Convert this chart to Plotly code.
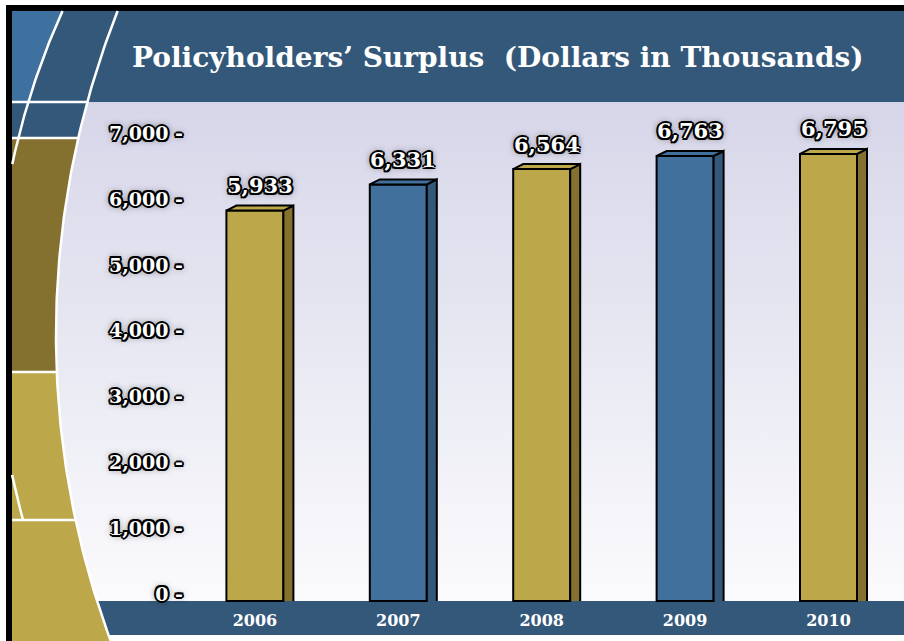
import numpy as np
import plotly.graph_objects as go

# ---------------- data ----------------
years = ["2006", "2007", "2008", "2009", "2010"]
surplus = [5933, 6331, 6564, 6763, 6795]
bar_colors = ["#BCA84A", "#41709C", "#BCA84A", "#41709C", "#BCA84A"]
side_colors = ["#85712F", "#34587A", "#85712F", "#34587A", "#85712F"]
y_ticks = [0, 1000, 2000, 3000, 4000, 5000, 6000, 7000]
y_tick_labels = [f"{v:,} -" for v in y_ticks]
title_text = "Policyholders’ Surplus  (Dollars in Thousands)"

# ---------------- layout geometry (pixels) ----------------
W, H = 904, 641
BASE_PX = 601          # front baseline of bars
TICK_BASE_PX = 594     # baseline of back wall (tick labels)
PX_PER_UNIT = 0.0658
CAT0_PX = 254.9
PX_PER_CAT = 143.4
BAR_W_PX = 57
DEPTH_X, DEPTH_Y = 10, 5

x2_range = [-CAT0_PX / PX_PER_CAT, (W - CAT0_PX) / PX_PER_CAT]
y2_range = [-(H - BASE_PX) / PX_PER_UNIT, BASE_PX / PX_PER_UNIT]
y3_range = [-(H - TICK_BASE_PX) / PX_PER_UNIT, TICK_BASE_PX / PX_PER_UNIT]
bw = BAR_W_PX / PX_PER_CAT
ddx = DEPTH_X / PX_PER_CAT
ddy = DEPTH_Y / PX_PER_UNIT

DARK_BLUE = "#34587A"
LIGHT_BLUE = "#3F71A0"
DARK_GOLD = "#85712F"
GOLD = "#BCA84A"


def curve_b(y):
    cx, cy, r = 938.8, 335.0, 882.8
    return cx - np.sqrt(r ** 2 - (y - cy) ** 2)


def curve_a(y):
    cx, cy, r = 745.9, 320.0, 750.0
    return cx - np.sqrt(r ** 2 - (y - cy) ** 2)


def path_left_region(y0, y1, curve, n=40):
    ys = np.linspace(y0, y1, n)
    xs = curve(ys)
    d = f"M 12,{y0} " + " ".join(f"L {x:.2f},{y:.2f}" for x, y in zip(xs, ys))
    d += f" L 12,{y1} Z"
    return d


shapes = []
# title band
shapes.append(dict(type="rect", xref="x", yref="y", x0=12, x1=W, y0=11, y1=102,
                   fillcolor=DARK_BLUE, line_width=0, layer="below"))
# light blue corner
shapes.append(dict(type="path", xref="x", yref="y", path=path_left_region(11, 102, curve_a),
                   fillcolor=LIGHT_BLUE, line_width=0, layer="below"))
# left segments
for (a, b, col) in [(102, 138, DARK_BLUE), (138, 372, DARK_GOLD), (372, 641, GOLD)]:
    shapes.append(dict(type="path", xref="x", yref="y", path=path_left_region(a, b, curve_b),
                       fillcolor=col, line_width=0, layer="below"))
# bottom band
ys = np.linspace(601, 635, 10)
d = " ".join(("M" if i == 0 else "L") + f" {x:.2f},{y:.2f}" for i, (x, y) in enumerate(zip(curve_b(ys), ys)))
d += f" L {W},635 L {W},601 Z"
shapes.append(dict(type="path", xref="x", yref="y", path=d, fillcolor=DARK_BLUE,
                   line_width=0, layer="below"))
# black frame
shapes.append(dict(type="rect", xref="x", yref="y", x0=6, x1=12, y0=5, y1=H,
                   fillcolor="#000", line_width=0, layer="below"))
shapes.append(dict(type="rect", xref="x", yref="y", x0=6, x1=W, y0=5, y1=11,
                   fillcolor="#000", line_width=0, layer="below"))

fig = go.Figure()

# gradient plot background bounded by the arc
gy = np.linspace(102, 601, 60)
gx = list(curve_b(gy)) + [W, W]
gyl = list(gy) + [601, 102]
fig.add_trace(go.Scatter(
    x=gx, y=gyl, xaxis="x", yaxis="y", mode="none", fill="toself",
    fillgradient=dict(type="vertical", start=102, stop=601,
                      colorscale=[[0, "#D6D6E9"], [1, "#FBFBFD"]]),
    hoverinfo="skip", showlegend=False))

# white decorative lines
lines = []
yb = np.linspace(11, H, 120)
lines.append((curve_b(yb), yb))
ya = np.linspace(11, 200, 80)
xa = curve_a(ya)
m = xa >= 12
lines.append((xa[m], ya[m]))
ya2 = np.linspace(440, 520, 40)
xa2 = curve_a(ya2)
m2 = xa2 >= 12
lines.append((xa2[m2], ya2[m2]))
for yy in [102, 138, 372, 520]:
    lines.append((np.array([12, curve_b(yy)]), np.array([yy, yy])))
for lx, ly in lines:
    fig.add_trace(go.Scatter(x=lx, y=ly, xaxis="x", yaxis="y", mode="lines",
                             line=dict(color="white", width=2.5),
                             hoverinfo="skip", showlegend=False))

# bars (front faces)
idx = list(range(len(years)))
fig.add_trace(go.Bar(
    x=idx, y=surplus, xaxis="x2", yaxis="y2", width=bw,
    marker=dict(color=bar_colors, line=dict(color="black", width=2)),
    hoverinfo="skip", showlegend=False))

# 3D side and top faces
for i, v in enumerate(surplus):
    xl, xr = i - bw / 2, i + bw / 2
    fig.add_trace(go.Scatter(
        x=[xr, xr, xr + ddx, xr + ddx], y=[0, v, v + ddy, 0],
        xaxis="x2", yaxis="y2", mode="lines", fill="toself",
        fillcolor=side_colors[i], line=dict(color="black", width=2),
        hoverinfo="skip", showlegend=False))
    fig.add_trace(go.Scatter(
        x=[xl, xl + ddx, xr + ddx, xr, xl], y=[v, v + ddy, v + ddy, v, v],
        xaxis="x2", yaxis="y2", mode="lines", fill="toself",
        fillcolor=bar_colors[i], line=dict(color="black", width=2),
        hoverinfo="skip", showlegend=False))

# dummy trace for tick axis
fig.add_trace(go.Scatter(x=[0], y=[0], xaxis="x2", yaxis="y3", mode="markers",
                         marker=dict(opacity=0), hoverinfo="skip", showlegend=False))

SHADOW = ("-2px 0 0 #000, 2px 0 0 #000, 0 -2px 0 #000, 0 2px 0 #000, "
          "-1.5px -1.5px 0 #000, 1.5px -1.5px 0 #000, -1.5px 1.5px 0 #000, 1.5px 1.5px 0 #000, "
          "0 0 7px rgba(0,0,0,0.8)")

annotations = []
for i, v in enumerate(surplus):
    annotations.append(dict(
        x=i, y=v, xref="x2", yref="y2", text=f"{v:,}", showarrow=False,
        xanchor="center", yanchor="middle", xshift=DEPTH_X / 2, yshift=25,
        font=dict(family="DejaVu Serif", size=21, color="white", weight="bold", shadow=SHADOW)))
annotations.append(dict(
    x=498, y=57, xref="x", yref="y", text=title_text, showarrow=False,
    xanchor="center", yanchor="middle",
    font=dict(family="DejaVu Serif", size=28, color="white", weight="bold")))

fig.update_layout(
    width=W, height=H, autosize=False,
    margin=dict(l=0, r=0, t=0, b=0, pad=0),
    paper_bgcolor="white", plot_bgcolor="rgba(0,0,0,0)",
    shapes=shapes, annotations=annotations, showlegend=False,
    xaxis=dict(range=[0, W], domain=[0, 1], visible=False, fixedrange=True),
    yaxis=dict(range=[H, 0], domain=[0, 1], visible=False, fixedrange=True),
    xaxis2=dict(overlaying="x", range=x2_range, anchor="free", position=(H - BASE_PX) / H,
                side="bottom", showgrid=False, zeroline=False, showline=False, ticks="",
                tickvals=idx, ticktext=years, ticklabelstandoff=8,
                tickfont=dict(family="DejaVu Serif", size=16, color="white", weight="bold")),
    yaxis2=dict(overlaying="y", range=y2_range, visible=False, fixedrange=True),
    yaxis3=dict(overlaying="y", range=y3_range, anchor="free", position=183 / W,
                side="left", showgrid=False, zeroline=False, showline=False, ticks="",
                tickvals=y_ticks, ticktext=y_tick_labels,
                tickfont=dict(family="DejaVu Serif", size=19, color="white", weight="bold",
                              shadow=SHADOW)),
)

fig.write_html("out.html")
